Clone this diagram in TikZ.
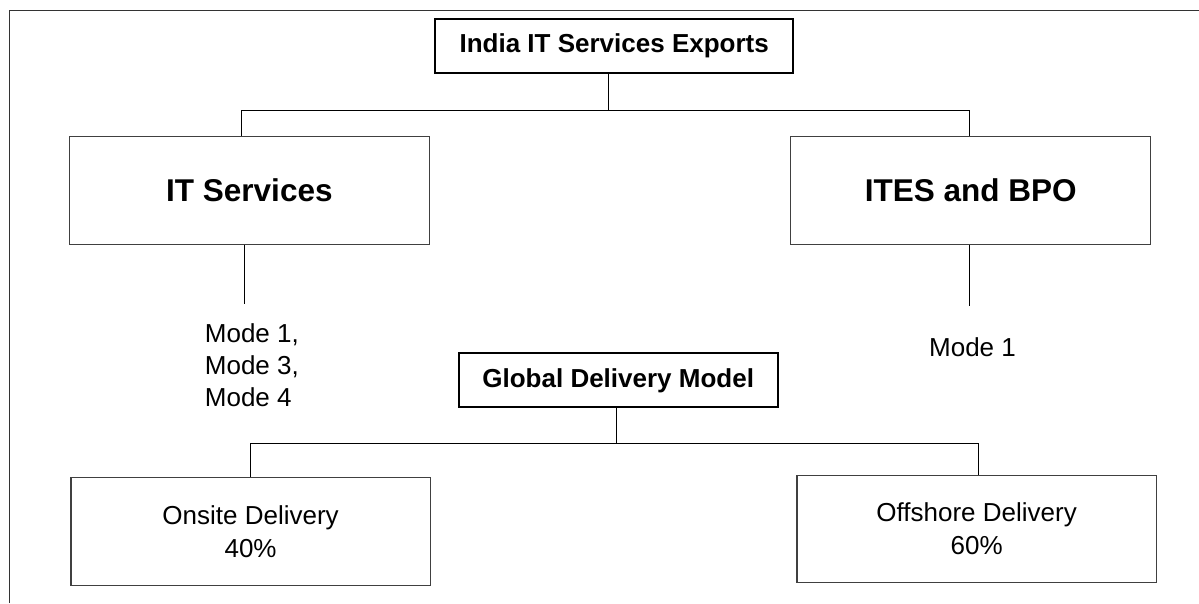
\documentclass[tikz,border=0pt]{standalone}
\usepackage{fontspec}
\setmainfont{Liberation Sans}
\usetikzlibrary{positioning}

\begin{document}
\begin{tikzpicture}
		[
			x=1pt,
			y=-1pt,
			align=center,
			title/.style={draw=black, line width=2pt, inner sep=0pt, font=\bfseries\fontsize{26}{32}\selectfont},
			branch/.style={draw=black!75, line width=1.3pt, inner sep=0pt, minimum width=360pt, minimum height=107.6pt, font=\bfseries\fontsize{31.5}{38}\selectfont},
			share/.style={draw=black!75, line width=1.3pt, inner sep=0pt, minimum width=359.5pt, minimum height=107.5pt, font=\fontsize{26}{33}\selectfont},
			label/.style={draw=none, fill=none, inner sep=0pt, font=\fontsize{26}{32}\selectfont},
			link/.style={line width=1pt}
		]
		\useasboundingbox (0,0) rectangle (1199,603);

		% frame
		\draw[line width=1pt, black!80] (9.6,603) -- (9.6,10) -- (1199,10);

		% boxes
		\node[title, minimum width=357.5pt, minimum height=54pt]	(exports)	at ( 614.2,  46.0 ) {India IT Services Exports};
		\node[branch]												(it)		at ( 249.4, 190.5 ) {IT Services};
		\node[branch]												(ites)		at ( 970.7, 190.5 ) {ITES and BPO};
		\node[title, minimum width=319pt, minimum height=54pt]		(global)	at ( 618.2, 380.3 ) {Global Delivery Model};
		\node[share]												(onsite)	at ( 250.6, 531.5 ) {Onsite Delivery\\40\%};
		\node[share]												(offshore)	at ( 976.6, 529.0 ) {Offshore Delivery\\60\%};

		% mode labels
		\node[label, anchor=west, align=left]	(itmodes)	at ( 204.7, 365.0 ) {Mode 1,\\Mode 3,\\Mode 4};
		\node[label]							(itesmode)	at ( 972.5, 346.7 ) {Mode 1};

		% connector points
		\coordinate (exportsbus)	at ( 608.4, 110.0 );
		\coordinate (exportsL)		at ( 241.5, 110.0 );
		\coordinate (exportsR)		at ( 969.7, 110.0 );
		\coordinate (itend)			at ( 244.2, 304.0 );
		\coordinate (itesend)		at ( 969.4, 306.0 );
		\coordinate (globalbus)		at ( 616.8, 443.3 );
		\coordinate (globalL)		at ( 250.3, 443.3 );
		\coordinate (globalR)		at ( 978.2, 443.3 );

		% connectors
		\draw[link] (exports.south -| exportsbus) -- (exportsbus);
		\draw[link] (exportsL) -- (exportsR);
		\draw[link] (global.south -| globalbus) -- (globalbus);
		\draw[link] (globalL) -- (globalR);
		\foreach \from/\to in
		{
			exportsL/it, exportsR/ites,
			globalL/onsite, globalR/offshore}
		\draw[link] (\from) -- (\from |- \to.north);
		\draw[link] (it.south -| itend) -- (itend);
		\draw[link] (ites.south -| itesend) -- (itesend);

	\end{tikzpicture}
\end{document}
